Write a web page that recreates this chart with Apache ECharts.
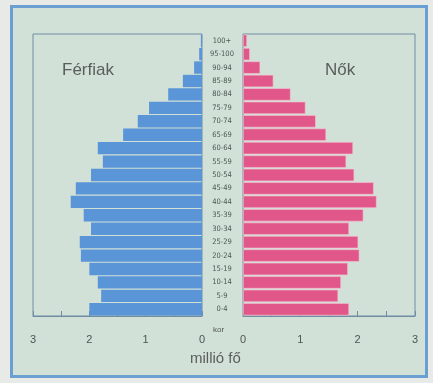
<!DOCTYPE html>
<html>
<head>
<meta charset="utf-8">
<script src="https://cdn.jsdelivr.net/npm/echarts@6/dist/echarts.min.js"></script>
<style>
  html, body { margin: 0; padding: 0; background: #e8eae7; }
  #frame {
    position: absolute; left: 10px; top: 5px; width: 412px; height: 367px;
    border: 3px solid #6a9fd2; background: #d1e1d7;
  }
  #chart { position: absolute; left: 0; top: 0; width: 433px; height: 383px; }
</style>
</head>
<body>
<div id="frame"></div>
<div id="chart"></div>
<script>
// korcsoportok alulrol felfele
const ageGroups = ['0-4', '5-9', '10-14', '15-19', '20-24', '25-29', '30-34', '35-39', '40-44', '45-49',
  '50-54', '55-59', '60-64', '65-69', '70-74', '75-79', '80-84', '85-89', '90-94', '95-100', '100+'];
// millio fo
const men = [2.0, 1.79, 1.85, 2.0, 2.15, 2.17, 1.97, 2.1, 2.33, 2.24,
  1.97, 1.76, 1.85, 1.4, 1.14, 0.94, 0.6, 0.34, 0.14, 0.05, 0.02];
const women = [1.85, 1.66, 1.71, 1.83, 2.03, 2.01, 1.85, 2.1, 2.33, 2.28,
  1.94, 1.8, 1.92, 1.45, 1.27, 1.09, 0.83, 0.53, 0.3, 0.12, 0.07];

const textColor = '#4f5552';
const lineColor = '#6f8ea3';

var myChart = echarts.init(document.getElementById('chart'));

const valueAxis = (gridIndex, inverse) => ({
  type: 'value', gridIndex: gridIndex, inverse: inverse,
  min: 0, max: 3, interval: 0.5,
  axisLine: { show: true, lineStyle: { color: lineColor, width: 1 } },
  axisTick: { show: true, inside: true, length: 5, lineStyle: { color: lineColor } },
  axisLabel: {
    color: textColor, fontSize: 11, margin: 18, fontFamily: 'Liberation Sans',
    formatter: v => (v % 1 === 0 ? String(v) : '')
  },
  splitLine: { show: false }
});

myChart.setOption({
  animation: false,
  grid: [
    { left: 33, right: 231, top: 34, bottom: 67, show: true, borderColor: lineColor, borderWidth: 1 },
    { left: 243, right: 18, top: 34, bottom: 67, show: true, borderColor: lineColor, borderWidth: 1 }
  ],
  xAxis: [valueAxis(0, true), valueAxis(1, false)],
  yAxis: [
    {
      type: 'category', gridIndex: 0, data: ageGroups, position: 'right',
      axisLine: { show: false }, axisTick: { show: false },
      axisLabel: { color: textColor, fontSize: 7.5, align: 'center', margin: 20, fontFamily: 'DejaVu Sans Condensed', interval: 0 }
    },
    {
      type: 'category', gridIndex: 1, data: ageGroups,
      axisLine: { show: false }, axisTick: { show: false }, axisLabel: { show: false }
    }
  ],
  series: [
    {
      name: 'Férfiak', type: 'bar', xAxisIndex: 0, yAxisIndex: 0, data: men,
      barCategoryGap: '8%', itemStyle: { color: '#5a95d7' }
    },
    {
      name: 'Nők', type: 'bar', xAxisIndex: 1, yAxisIndex: 1, data: women,
      barCategoryGap: '8%', itemStyle: { color: '#e2578a', borderColor: '#f3c6d4', borderWidth: 0.6 }
    }
  ],
  graphic: [
    { type: 'text', left: 62, top: 62, style: { text: 'Férfiak', fill: '#5a5e5b', font: '17px "Liberation Sans"' } },
    { type: 'text', left: 325, top: 62, style: { text: 'Nők', fill: '#5a5e5b', font: '17px "Liberation Sans"' } },
    { type: 'text', left: 213, top: 326, style: { text: 'kor', fill: textColor, font: '8px "Liberation Sans"' } },
    { type: 'text', left: 190, top: 351, style: { text: 'millió fő', fill: '#5a5e5b', font: '15px "Liberation Sans"' } }
  ]
});
</script>
</body>
</html>
